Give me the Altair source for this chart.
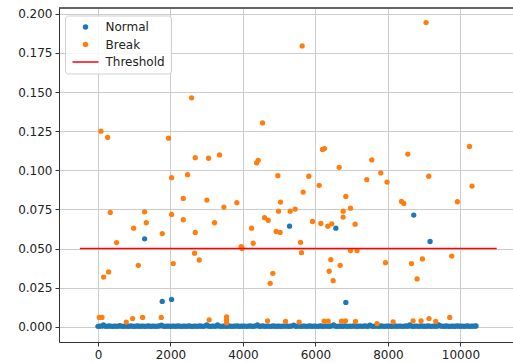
import altair as alt
import pandas as pd

# Normal points lying on the near-zero band (x positions, step of 50)
band_x = [0, 50, 100, 150, 200, 250, 300, 350, 400, 450, 500, 550, 600, 650, 700, 750, 800, 850, 900, 950,
          1000, 1050, 1100, 1150, 1200, 1250, 1300, 1350, 1400, 1450, 1500, 1550, 1600, 1650, 1700, 1750, 1800, 1850, 1900, 1950,
          2000, 2050, 2100, 2150, 2200, 2250, 2300, 2350, 2400, 2450, 2500, 2550, 2600, 2650, 2700, 2750, 2800, 2850, 2900, 2950,
          3000, 3050, 3100, 3150, 3200, 3250, 3300, 3350, 3400, 3450, 3500, 3550, 3600, 3650, 3700, 3750, 3800, 3850, 3900, 3950,
          4000, 4050, 4100, 4150, 4200, 4250, 4300, 4350, 4400, 4450, 4500, 4550, 4600, 4650, 4700, 4750, 4800, 4850, 4900, 4950,
          5000, 5050, 5100, 5150, 5200, 5250, 5300, 5350, 5400, 5450, 5500, 5550, 5600, 5650, 5700, 5750, 5800, 5850, 5900, 5950,
          6000, 6050, 6100, 6150, 6200, 6250, 6300, 6350, 6400, 6450, 6500, 6550, 6600, 6650, 6700, 6750, 6800, 6850, 6900, 6950,
          7000, 7050, 7100, 7150, 7200, 7250, 7300, 7350, 7400, 7450, 7500, 7550, 7600, 7650, 7700, 7750, 7800, 7850, 7900, 7950,
          8000, 8050, 8100, 8150, 8200, 8250, 8300, 8350, 8400, 8450, 8500, 8550, 8600, 8650, 8700, 8750, 8800, 8850, 8900, 8950,
          9000, 9050, 9100, 9150, 9200, 9250, 9300, 9350, 9400, 9450, 9500, 9550, 9600, 9650, 9700, 9750, 9800, 9850, 9900, 9950,
          10000, 10050, 10100, 10150, 10200, 10250, 10300, 10350, 10400, 10430]
band_y = [0.0003, 0.0005, 0.0004, 0.0012, 0.0004, 0.0003, 0.0006, 0.0004, 0.0003, 0.0005, 0.0004, 0.0003, 0.0007, 0.0004, 0.0003, 0.0005, 0.0004, 0.0003, 0.0006, 0.0004,
          0.0003, 0.0004, 0.0006, 0.0003, 0.0004, 0.0005, 0.0003, 0.0004, 0.0006, 0.0003, 0.0004, 0.0005, 0.0003, 0.0004, 0.0006, 0.0010, 0.0004, 0.0003, 0.0005, 0.0004,
          0.0003, 0.0005, 0.0004, 0.0003, 0.0006, 0.0004, 0.0003, 0.0005, 0.0004, 0.0003, 0.0006, 0.0004, 0.0003, 0.0005, 0.0004, 0.0003, 0.0006, 0.0004, 0.0003, 0.0005,
          0.0012, 0.0004, 0.0003, 0.0005, 0.0004, 0.0003, 0.0013, 0.0004, 0.0003, 0.0005, 0.0004, 0.0003, 0.0006, 0.0004, 0.0003, 0.0005, 0.0004, 0.0006, 0.0003, 0.0004,
          0.0004, 0.0005, 0.0003, 0.0004, 0.0006, 0.0003, 0.0004, 0.0005, 0.0012, 0.0003, 0.0004, 0.0006, 0.0003, 0.0004, 0.0005, 0.0003, 0.0004, 0.0006, 0.0003, 0.0004,
          0.0004, 0.0003, 0.0005, 0.0004, 0.0006, 0.0003, 0.0004, 0.0005, 0.0011, 0.0003, 0.0004, 0.0006, 0.0003, 0.0004, 0.0005, 0.0003, 0.0004, 0.0006, 0.0003, 0.0004,
          0.0005, 0.0003, 0.0004, 0.0006, 0.0003, 0.0004, 0.0005, 0.0003, 0.0004, 0.0006, 0.0012, 0.0004, 0.0003, 0.0005, 0.0004, 0.0003, 0.0006, 0.0004, 0.0003, 0.0005,
          0.0003, 0.0006, 0.0004, 0.0003, 0.0005, 0.0004, 0.0003, 0.0006, 0.0004, 0.0003, 0.0011, 0.0004, 0.0003, 0.0005, 0.0004, 0.0003, 0.0006, 0.0004, 0.0003, 0.0005,
          0.0004, 0.0005, 0.0003, 0.0004, 0.0006, 0.0003, 0.0004, 0.0005, 0.0003, 0.0004, 0.0006, 0.0003, 0.0012, 0.0004, 0.0003, 0.0005, 0.0004, 0.0003, 0.0006, 0.0004,
          0.0004, 0.0003, 0.0006, 0.0004, 0.0003, 0.0005, 0.0004, 0.0003, 0.0013, 0.0005, 0.0004, 0.0003, 0.0006, 0.0004, 0.0003, 0.0005, 0.0004, 0.0003, 0.0006, 0.0004,
          0.0004, 0.0005, 0.0003, 0.0004, 0.0006, 0.0003, 0.0004, 0.0005, 0.0004, 0.0006]

# Normal points above the band
normal_x = [1287, 1773, 2031, 5285, 6562, 6838, 8712, 9162]
normal_y = [0.0562, 0.0162, 0.0175, 0.0643, 0.0630, 0.0156, 0.0714, 0.0545]

# Break points
break_x = [83, 267, 1948, 2583, 2683, 3051, 3354, 2031, 2472, 4375,
           4420, 5633, 4541, 6195, 6250, 6654, 7554, 8547, 4963, 5817,
           7417, 7803, 7975, 9126, 9052, 10248, 10320, 9915, 9760, 340,
           1287, 1333, 983, 515, 1773, 2031, 2353, 2353, 2684, 3005,
           3216, 3474, 3832, 4237, 4283, 3950, 3975, 2665, 2793, 2077,
           1112, 294, 156, 6102, 5661, 6838, 5037, 4982, 5302, 5440,
           6764, 6967, 8373, 8437, 4596, 4697, 5919, 6148, 6341, 6451,
           6764, 7094, 4916, 5026, 5589, 5616, 6967, 7149, 6424, 6378,
           6488, 6681, 4825, 4751, 7932, 8649, 8952, 8804,
           36, 110, 781, 956, 1232, 1746, 3068, 3548, 3548, 3548,
           4679, 5175, 5550, 6240, 6350, 6718, 6829, 7105, 7700, 8142,
           8694, 8914, 9134, 9319, 9705]
break_y = [0.1250, 0.1210, 0.1205, 0.1463, 0.1081, 0.1077, 0.1098, 0.0953, 0.0972, 0.1047,
           0.1064, 0.1795, 0.1303, 0.1133, 0.1139, 0.1019, 0.1066, 0.1104, 0.0966, 0.0962,
           0.0940, 0.0983, 0.0925, 0.0962, 0.1944, 0.1152, 0.0899, 0.0799, 0.0452, 0.0731,
           0.0735, 0.0665, 0.0630, 0.0538, 0.0596, 0.0718, 0.0820, 0.0684, 0.0603, 0.0810,
           0.0665, 0.0765, 0.0793, 0.0630, 0.0534, 0.0512, 0.0500, 0.0470, 0.0427, 0.0404,
           0.0393, 0.0351, 0.0318, 0.0904, 0.0861, 0.0833, 0.0797, 0.0739, 0.0739, 0.0752,
           0.0739, 0.0758, 0.0801, 0.0788, 0.0697, 0.0681, 0.0673, 0.0660, 0.0643, 0.0658,
           0.0701, 0.0656, 0.0609, 0.0603, 0.0540, 0.0474, 0.0487, 0.0487, 0.0429, 0.0355,
           0.0295, 0.0393, 0.0342, 0.0278, 0.0410, 0.0404, 0.0434, 0.0306,
           0.0060, 0.0060, 0.0030, 0.0053, 0.0060, 0.0060, 0.0045, 0.0064, 0.0043, 0.0026,
           0.0038, 0.0034, 0.0030, 0.0036, 0.0036, 0.0036, 0.0038, 0.0034, 0.0021, 0.0032,
           0.0038, 0.0038, 0.0053, 0.0034, 0.0060]

threshold_x = [-500, 11000]
threshold_y = [0.05, 0.05]

series_names = ["Normal", "Break", "Threshold"]
series_colors = ["#1f77b4", "#ff7f0e", "#ff0000"]

x_ticks = [0, 2000, 4000, 6000, 8000, 10000]
y_ticks = [0.0, 0.025, 0.05, 0.075, 0.1, 0.125, 0.15, 0.175, 0.2]

pts = pd.DataFrame({
    "x": band_x + normal_x + break_x,
    "y": band_y + normal_y + break_y,
    "series": ["Normal"] * (len(band_x) + len(normal_x)) + ["Break"] * len(break_x),
    "order": [0] * (len(band_x) + len(normal_x)) + [1] * len(break_x),
})
thr = pd.DataFrame({"x": threshold_x, "y": threshold_y, "series": ["Threshold"] * 2})

W, H = 454, 334
FONT = "DejaVu Sans"

xscale = alt.Scale(domain=[-1075, 11450], nice=False, zero=False)
yscale = alt.Scale(domain=[-0.0097, 0.2037], nice=False, zero=False)

xaxis = alt.Axis(values=x_ticks, format="d", title=None, grid=True)
yaxis = alt.Axis(values=y_ticks, format=".3f", title=None, grid=True)

legend = alt.Legend(
    title=None, orient="none", legendX=6, legendY=7.5,
    labelFont=FONT, labelFontSize=12, labelColor="#222",
    symbolType={"expr": "datum.value === 'Threshold' ? 'M-6.5,0H6.5' : 'circle'"},
    symbolSize=16, symbolStrokeWidth=1.5,
    symbolStrokeColor={"expr": "scale('color', datum.value)"},
    symbolFillColor={"expr": "scale('color', datum.value)"},
    symbolOpacity=1,
    symbolOffset=9, labelOffset=14, rowPadding=5.5, padding=5.5,
    strokeColor="#d0d0d0", fillColor="rgba(255,255,255,0.85)", cornerRadius=3,
)

color = alt.Color("series:N", scale=alt.Scale(domain=series_names, range=series_colors), legend=legend)

points = alt.Chart(pts).mark_circle(size=28, opacity=1).encode(
    x=alt.X("x:Q", scale=xscale, axis=xaxis),
    y=alt.Y("y:Q", scale=yscale, axis=yaxis),
    color=color,
    order=alt.Order("order:Q"),
)

line = alt.Chart(thr).mark_line(strokeWidth=1.5).encode(
    x=alt.X("x:Q", scale=xscale),
    y=alt.Y("y:Q", scale=yscale),
    color=color,
)

top_spine = alt.Chart(thr).mark_rule(color="#333", strokeWidth=1).encode(
    x=alt.value(0), x2=alt.value(W), y=alt.value(0)
)

chart = alt.layer(points, line, top_spine).properties(
    width=W, height=H,
    autosize=alt.AutoSizeParams(type="none"),
    padding={"left": 59, "top": 8, "right": 0, "bottom": 21},
).configure_view(stroke=None).configure_axis(
    labelFont=FONT, labelFontSize=12, labelColor="#222",
    domainColor="#333", domainWidth=1, tickColor="#333", tickSize=4, tickWidth=1,
    gridColor="#cccccc", gridWidth=1, labelPadding=3,
).configure_axisY(domain=True).configure_axisX(domain=True)

chart.save("out.html", embed_options={"renderer": "svg", "actions": False})
